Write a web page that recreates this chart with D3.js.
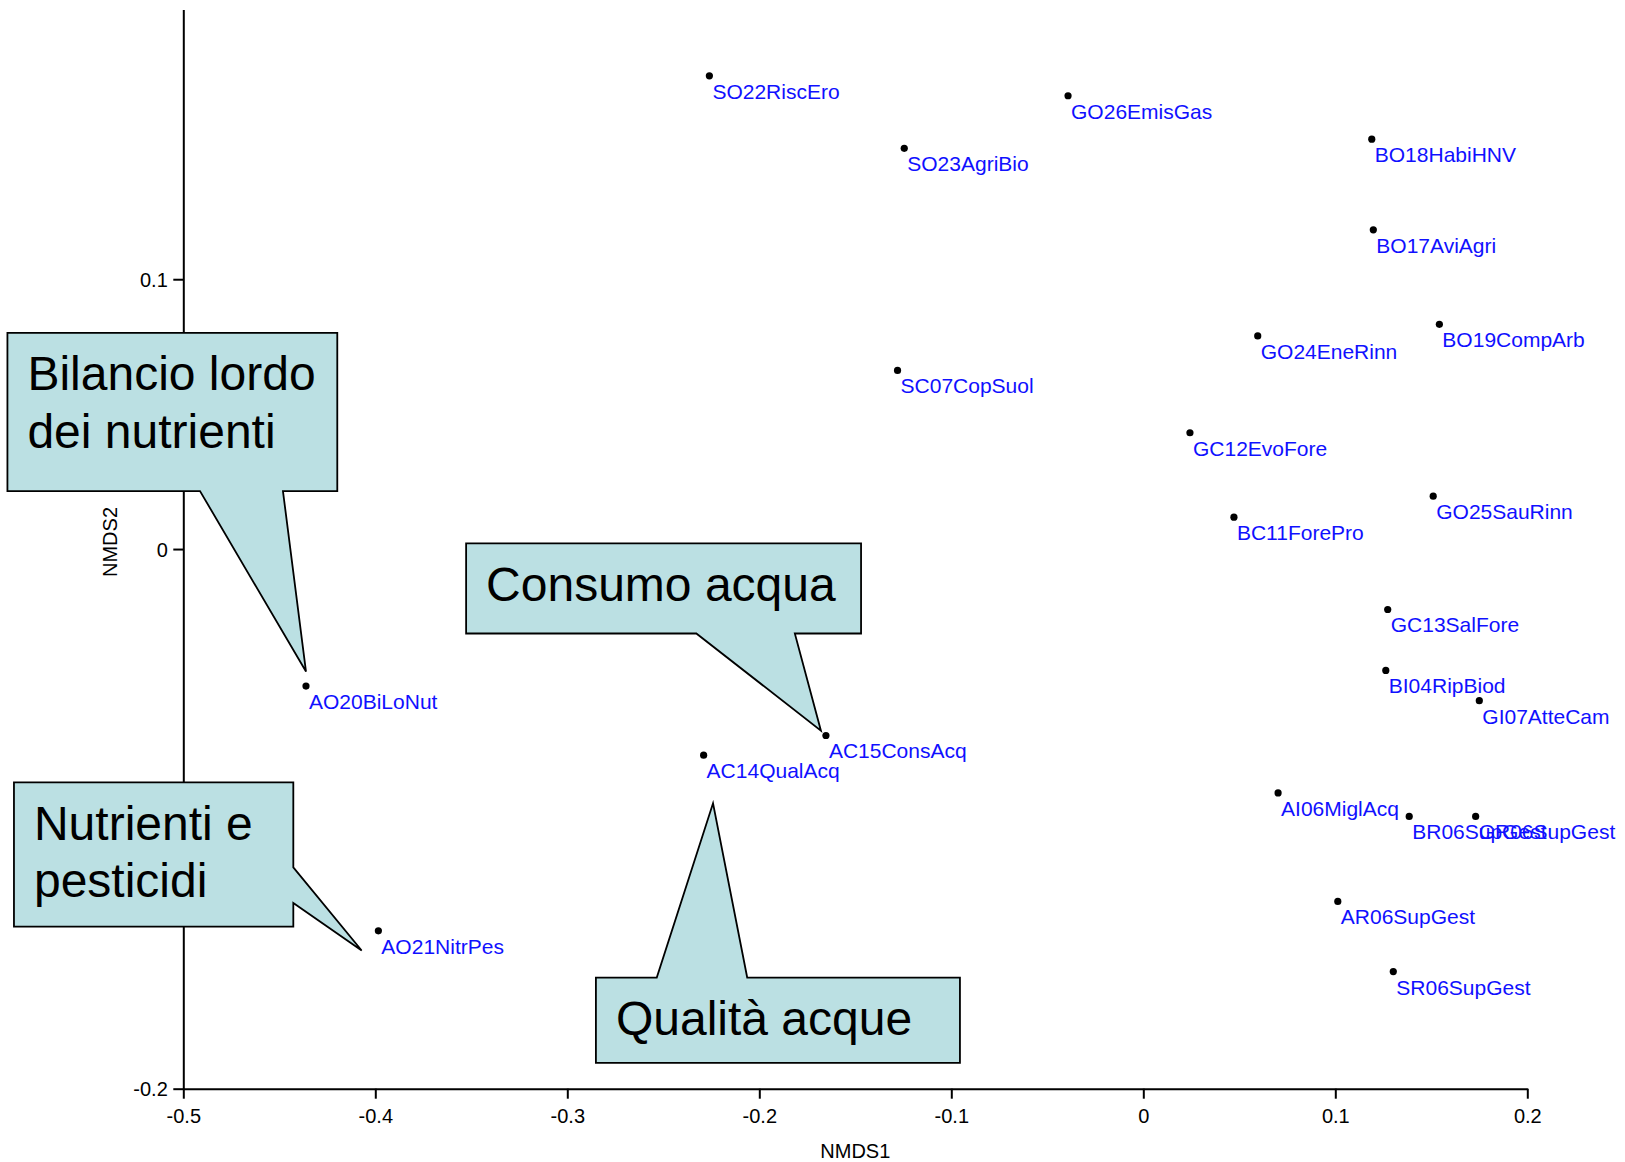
<!DOCTYPE html>
<html>
<head>
<meta charset="utf-8">
<script src="https://cdn.jsdelivr.net/npm/d3@7"></script>
<style>
  html, body { margin: 0; padding: 0; background: #ffffff; }
  svg { display: block; }
  text { font-family: "Liberation Sans", Arial, sans-serif; }
</style>
</head>
<body>
<svg id="chart" width="1625" height="1162"></svg>
<script>
// ---------------- DATA ----------------
const labels = [
  "SO22RiscEro", "GO26EmisGas", "SO23AgriBio", "BO18HabiHNV", "BO17AviAgri",
  "BO19CompArb", "GO24EneRinn", "SC07CopSuol", "GC12EvoFore", "GO25SauRinn",
  "BC11ForePro", "GC13SalFore", "BI04RipBiod", "GI07AtteCam", "AO20BiLoNut",
  "AC15ConsAcq", "AC14QualAcq", "AI06MiglAcq", "BR06SupGest", "GR06SupGest",
  "AR06SupGest", "SR06SupGest", "AO21NitrPes"
];
const nmds1 = [
  -0.2260, -0.0392, -0.1245, 0.1190, 0.1198,
   0.1542,  0.0596, -0.1280, 0.0243, 0.1510,
   0.0472,  0.1273,  0.1263, 0.1750, -0.4361,
  -0.1653, -0.2290,  0.0702, 0.1385, 0.1731,
   0.1013,  0.1302, -0.3984
];
const nmds2 = [
   0.1754,  0.1680,  0.1485,  0.1519,  0.1183,
   0.0833,  0.0790,  0.0662,  0.0431,  0.0196,
   0.0118, -0.0224, -0.0450, -0.0562, -0.0508,
  -0.0691, -0.0764, -0.0904, -0.0991, -0.0991,
  -0.1306, -0.1566, -0.1415
];
const xTicks = [-0.5, -0.4, -0.3, -0.2, -0.1, 0, 0.1, 0.2];
const xTickLabels = ["-0.5", "-0.4", "-0.3", "-0.2", "-0.1", "0", "0.1", "0.2"];
// the -0.1 tick of the reference is hidden under the "Nutrienti e pesticidi" callout
const yTicks = [-0.2, 0, 0.1];
const yTickLabels = ["-0.2", "0", "0.1"];
const xTitle = "NMDS1";
const yTitle = "NMDS2";

// Callout annotations (text + geometry in data units)
const calloutText = [
  ["Bilancio lordo", "dei nutrienti"],
  ["Consumo acqua"],
  ["Nutrienti e", "pesticidi"],
  ["Qualità acque"]
];
const calloutBox = [   // [x0, x1, yTop, yBottom]
  [-0.5916, -0.4198,  0.0801,  0.0215],
  [-0.3527, -0.1470,  0.0021, -0.0313],
  [-0.5882, -0.4427, -0.0865, -0.1399],
  [-0.2851, -0.0955, -0.1588, -0.1904]
];
const calloutEdge = ["bottom", "bottom", "right", "top"];
const calloutBase = [  // pointer base along the edge
  [-0.4913, -0.4481],
  [-0.2328, -0.1815],
  [-0.1180, -0.1312],
  [-0.2534, -0.2063]
];
const calloutTip = [
  [-0.4361, -0.0454],
  [-0.1679, -0.0673],
  [-0.4071, -0.1488],
  [-0.2241, -0.0942]
];

// ---------------- CHART ----------------
const svg = d3.select("#chart");
svg.append("rect").attr("width", 1625).attr("height", 1162).attr("fill", "#ffffff");

const x = d3.scaleLinear().domain([-0.5, 0.2]).range([183.3, 1527.3]);
const y = d3.scaleLinear().domain([-0.2, 0.2]).range([1088.7, 9.4]);

// X axis
const gx = svg.append("g")
  .attr("transform", `translate(0,${y(-0.2)})`)
  .call(d3.axisBottom(x).tickValues(xTicks)
    .tickFormat((d, i) => xTickLabels[i]).tickSize(10).tickSizeOuter(0));
// Y axis
const gy = svg.append("g")
  .attr("transform", `translate(${x(-0.5)},0)`)
  .call(d3.axisLeft(y).tickValues(yTicks)
    .tickFormat((d, i) => yTickLabels[i]).tickSize(10).tickSizeOuter(0));

[gx, gy].forEach(g => {
  g.select(".domain").attr("stroke", "#000").attr("stroke-width", 2);
  g.selectAll(".tick line").attr("stroke", "#000").attr("stroke-width", 2);
  g.selectAll(".tick text")
    .attr("fill", "#000")
    .style("font-family", "'Liberation Sans', Arial, sans-serif")
    .style("font-size", "20px");
});
gx.selectAll(".tick text").attr("dy", null).attr("y", 34.5);
gy.selectAll(".tick text").attr("x", -15.5).attr("dy", "0.35em");

// Axis titles
svg.append("text")
  .attr("x", (x(-0.5) + x(0.2)) / 2)
  .attr("y", 1158)
  .attr("text-anchor", "middle")
  .style("font-size", "20px")
  .attr("fill", "#000")
  .text(xTitle);
svg.append("text")
  .attr("transform", `translate(116.5,542) rotate(-90)`)
  .attr("text-anchor", "middle")
  .style("font-size", "20px")
  .attr("fill", "#000")
  .text(yTitle);

// Points and labels
const pts = labels.map((l, i) => ({ label: l, x: nmds1[i], y: nmds2[i] }));
svg.append("g").selectAll("circle").data(pts).join("circle")
  .attr("cx", d => x(d.x))
  .attr("cy", d => y(d.y))
  .attr("r", 3.6)
  .attr("fill", "#000");
svg.append("g").selectAll("text").data(pts).join("text")
  .attr("x", d => x(d.x) + 3)
  .attr("y", d => y(d.y) + 23)
  .attr("fill", "#1010ff")
  .style("font-size", "21px")
  .text(d => d.label);

// Callouts
const cg = svg.append("g");
calloutText.forEach((lines, i) => {
  const [bx0, bx1, byT, byB] = calloutBox[i];
  const X0 = x(bx0), X1 = x(bx1), YT = y(byT), YB = y(byB);
  const tip = [x(calloutTip[i][0]), y(calloutTip[i][1])];
  const edge = calloutEdge[i];
  const p = d3.path();
  if (edge === "bottom") {
    const b0 = x(calloutBase[i][0]), b1 = x(calloutBase[i][1]);
    p.moveTo(X0, YT); p.lineTo(X1, YT); p.lineTo(X1, YB);
    p.lineTo(b1, YB); p.lineTo(tip[0], tip[1]); p.lineTo(b0, YB);
    p.lineTo(X0, YB); p.closePath();
  } else if (edge === "top") {
    const b0 = x(calloutBase[i][0]), b1 = x(calloutBase[i][1]);
    p.moveTo(X0, YT); p.lineTo(b0, YT); p.lineTo(tip[0], tip[1]);
    p.lineTo(b1, YT); p.lineTo(X1, YT); p.lineTo(X1, YB);
    p.lineTo(X0, YB); p.closePath();
  } else { // right
    const b0 = y(calloutBase[i][0]), b1 = y(calloutBase[i][1]);
    p.moveTo(X0, YT); p.lineTo(X1, YT); p.lineTo(X1, b0);
    p.lineTo(tip[0], tip[1]); p.lineTo(X1, b1); p.lineTo(X1, YB);
    p.lineTo(X0, YB); p.closePath();
  }
  cg.append("path")
    .attr("d", p.toString())
    .attr("fill", "#bbe0e3")
    .attr("stroke", "#000")
    .attr("stroke-width", 1.8)
    .attr("stroke-linejoin", "miter");
  const t = cg.append("text")
    .attr("fill", "#000")
    .style("font-size", "48px");
  lines.forEach((ln, j) => {
    t.append("tspan")
      .attr("x", X0 + 20)
      .attr("y", YT + 57.5 + j * 57.5)
      .text(ln);
  });
});
</script>
</body>
</html>
